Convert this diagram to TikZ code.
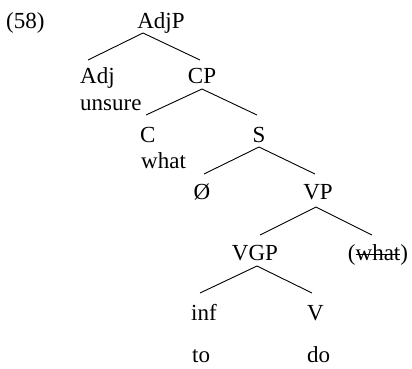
\documentclass[tikz,border=0pt]{standalone}
\usepackage{fontspec}
\setmainfont{Liberation Serif}
\newcommand\mystrike[1]{\setbox0\hbox{#1}\rlap{\raise0.2em\hbox{\rule{\wd0}{0.065em}}}\box0}
\begin{document}
\begin{tikzpicture}[x=1pt,y=-1pt,
  lab/.style={inner sep=0pt,font=\fontsize{23}{27}\selectfont},
  branch/.style={line width=0.9pt}]
\useasboundingbox (0,0) rectangle (412,368);
\node[lab,anchor=base west] (n58) at (6,28) {(58)};
\node[lab,anchor=base] (AdjP) at (161,28) {AdjP};
\node[lab,anchor=base west] (Adj) at (80,83) {Adj};
\node[lab,anchor=base west] (unsure) at (80,110) {unsure};
\node[lab,anchor=base] (CP) at (202,83) {CP};
\node[lab,anchor=base west] (C) at (140,142) {C};
\node[lab,anchor=base west] (what) at (141,168) {what};
\node[lab,anchor=base] (S) at (259,142) {S};
\node[lab,anchor=base] (O) at (202,199) {Ø};
\node[lab,anchor=base] (VP) at (318,199) {VP};
\node[lab,anchor=base] (VGP) at (255,260) {VGP};
\node[lab,anchor=base] (whatt) at (378,260) {(\mystrike{what})};
\node[lab,anchor=base west] (inf) at (191,320) {inf};
\node[lab,anchor=base west] (V) at (307,320) {V};
\node[lab,anchor=base west] (to) at (192,362) {to};
\node[lab,anchor=base west] (do) at (307,362) {do};
% branches
\draw[branch] ([xshift=8pt,yshift=23pt]Adj.base west) -- ([xshift=-18pt,yshift=-5pt]AdjP.base) -- ([xshift=-2pt,yshift=23pt]CP.base);
\draw[branch] ([xshift=6pt,yshift=27pt]C.base west) -- ([yshift=-6pt]CP.base) -- ([xshift=-2pt,yshift=27pt]S.base);
\draw[branch] ([xshift=2pt,yshift=25pt]O.base) -- ([yshift=-5pt]S.base) -- ([xshift=-3pt,yshift=25pt]VP.base);
\draw[branch] ([xshift=5pt,yshift=25pt]VGP.base) -- ([xshift=-2pt,yshift=-8pt]VP.base) -- ([xshift=-6pt,yshift=25pt]whatt.base);
\draw[branch] ([xshift=9pt,yshift=27pt]inf.base west) -- ([xshift=2pt,yshift=-6pt]VGP.base) -- ([xshift=5pt,yshift=27pt]V.base west);
\end{tikzpicture}
\end{document}
